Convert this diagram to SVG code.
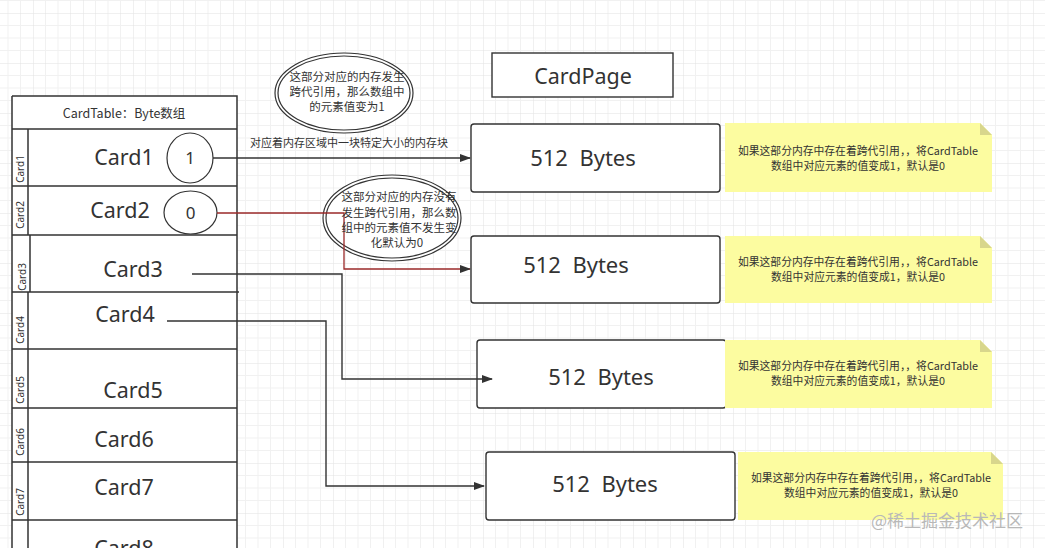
<svg xmlns="http://www.w3.org/2000/svg" width="1045" height="548" viewBox="0 0 1045 548">
<defs>
<pattern id="grid" x="33" y="13" width="50" height="50" patternUnits="userSpaceOnUse">
<path d="M12.5 0V50M25 0V50M37.5 0V50M0 12.5H50M0 25H50M0 37.5H50" stroke="#f1f1f1" stroke-width="1" fill="none"/>
<path d="M0 0V50M0 0H50" stroke="#e2e2e2" stroke-width="1" fill="none"/>
</pattern>
<marker id="arr" markerWidth="11" markerHeight="8" refX="10" refY="4" orient="auto" markerUnits="userSpaceOnUse">
<path d="M0 0L11 4L0 8Z" fill="#333"/>
</marker>
<style>
.ln{stroke:#333;stroke-width:1.4;fill:none}
.cell{stroke:#333;stroke-width:1.5;fill:none}
.t{font-family:"Noto Sans","Noto Sans CJK SC",sans-serif;fill:#333;text-anchor:middle}
.card{font-size:21.5px}
.side{font-size:10px}
.cjk{font-family:"Noto Sans CJK SC","Noto Sans",sans-serif;fill:#333;text-anchor:middle}
.box{fill:#fff;stroke:#333;stroke-width:1.4}
.note{fill:#fcfca0}
.fold{fill:#d8d68c}
.nt{font-size:10.8px}
.el{fill:#fff;stroke:#333;stroke-width:1.2}
</style>
</defs>
<rect width="1045" height="548" fill="#fff"/>
<rect width="1045" height="548" fill="url(#grid)"/>

<g id="cardtable">
<rect x="12" y="96" width="225" height="470" fill="#fff" stroke="none"/>
<path class="cell" d="M12 96H237V560M12 96V560M12 129H237M12 186H237M12 235H237M12 292H239M12 349H237M12 408H237M12 462H237M12 520H237"/>
<path class="cell" d="M28 129V235M30 235V292M28 292V520M28 520V560"/>
<text class="cjk" x="124" y="118" font-size="12.5">CardTable：Byte数组</text>
</g>

<g id="card1">
<text class="t card" x="124" y="165">Card1</text>
<text class="t side" transform="translate(23.5 169) rotate(-90)">Card1</text>
</g>
<g id="card2">
<text class="t card" x="120" y="218">Card2</text>
<text class="t side" transform="translate(23.5 215) rotate(-90)">Card2</text>
</g>
<g id="card3">
<text class="t card" x="133" y="277">Card3</text>
<text class="t side" transform="translate(25.5 277) rotate(-90)">Card3</text>
</g>
<g id="card4">
<text class="t card" x="125" y="322">Card4</text>
<text class="t side" transform="translate(23.5 330) rotate(-90)">Card4</text>
</g>
<g id="card5">
<text class="t card" x="133" y="398">Card5</text>
<text class="t side" transform="translate(23.5 390) rotate(-90)">Card5</text>
</g>
<g id="card6">
<text class="t card" x="124" y="447">Card6</text>
<text class="t side" transform="translate(23.5 442) rotate(-90)">Card6</text>
</g>
<g id="card7">
<text class="t card" x="124" y="495">Card7</text>
<text class="t side" transform="translate(23.5 502) rotate(-90)">Card7</text>
</g>
<g id="card8">
<text class="t card" x="124" y="556">Card8</text>
</g>

<g id="val1">
<ellipse class="el" cx="190" cy="158" rx="23" ry="25" stroke-width="1.4"/>
<text class="t" x="190" y="164" font-size="17">1</text>
</g>
<g id="val0">
<ellipse class="el" cx="190.5" cy="212.5" rx="26.5" ry="21.5" stroke-width="1.4"/>
<text class="t" x="190.5" y="219" font-size="17">0</text>
</g>

<g id="note-cross">
<ellipse class="el" cx="344" cy="93" rx="69" ry="40"/>
<ellipse class="el" cx="344" cy="93" rx="66" ry="37"/>
<text class="cjk" font-size="11.5"><tspan x="347" y="81">这部分对应的内存发生</tspan><tspan x="347" y="96">跨代引用，那么数组中</tspan><tspan x="347" y="111">的元素值变为1</tspan></text>
</g>
<g id="note-nocross">
<ellipse class="el" cx="392" cy="218" rx="69" ry="43"/>
<ellipse class="el" cx="392" cy="218" rx="66" ry="40"/>
</g>

<g id="cardpage">
<rect x="492" y="53" width="181" height="44" fill="#fff" stroke="#333" stroke-width="1.4"/>
<text class="t" x="583" y="84" font-size="21.5">CardPage</text>
</g>

<g id="bytes1">
<rect class="box" x="471" y="124" width="249" height="68" rx="3"/>
<text class="t" x="583" y="166" font-size="22" xml:space="preserve">512  Bytes</text>
</g>
<g id="bytes2">
<rect class="box" x="471" y="236" width="249" height="67" rx="3"/>
<text class="t" x="576" y="273" font-size="22" xml:space="preserve">512  Bytes</text>
</g>
<g id="bytes3">
<rect class="box" x="477" y="340" width="249" height="68" rx="3"/>
<text class="t" x="601" y="385" font-size="22" xml:space="preserve">512  Bytes</text>
</g>
<g id="bytes4">
<rect class="box" x="486" y="452" width="249" height="68" rx="3"/>
<text class="t" x="605" y="492" font-size="22" xml:space="preserve">512  Bytes</text>
</g>

<g id="connectors">
<path class="ln" d="M213 158H470" marker-end="url(#arr)"/>
<text class="cjk" x="349" y="147" font-size="11">对应着内存区域中一块特定大小的内存块</text>
<path d="M217 213H344V269H470" fill="none" stroke="#9a2a2a" stroke-width="1.3" marker-end="url(#arr)"/>
<path class="ln" d="M192 274H342V379H492" marker-end="url(#arr)"/>
<path class="ln" d="M167 321H326V486H484" marker-end="url(#arr)"/>
</g>

<g id="note-nocross-text">
<text class="cjk" font-size="11.5"><tspan x="399" y="201">这部分对应的内存没有</tspan><tspan x="399" y="217">发生跨代引用，那么数</tspan><tspan x="399" y="232">组中的元素值不发生变</tspan><tspan x="397" y="247">化默认为0</tspan></text>
</g>

<g id="note1">
<path class="note" d="M725 123H980L992 135V192H725Z"/>
<path class="fold" d="M980 123L992 135H980Z"/>
<text class="cjk nt"><tspan x="858" y="155">如果这部分内存中存在着跨代引用，，将CardTable</tspan><tspan x="858" y="169.5">数组中对应元素的值变成1，默认是0</tspan></text>
</g>
<g id="note2">
<path class="note" d="M725 236H980L992 248V303H725Z"/>
<path class="fold" d="M980 236L992 248H980Z"/>
<text class="cjk nt"><tspan x="858" y="266">如果这部分内存中存在着跨代引用，，将CardTable</tspan><tspan x="858" y="280.5">数组中对应元素的值变成1，默认是0</tspan></text>
</g>
<g id="note3">
<path class="note" d="M725 340H980L992 352V408H725Z"/>
<path class="fold" d="M980 340L992 352H980Z"/>
<text class="cjk nt"><tspan x="858" y="370">如果这部分内存中存在着跨代引用，，将CardTable</tspan><tspan x="858" y="384.5">数组中对应元素的值变成1，默认是0</tspan></text>
</g>
<g id="note4">
<path class="note" d="M738 452H991L1003 464V520H738Z"/>
<path class="fold" d="M991 452L1003 464H991Z"/>
<text class="cjk nt"><tspan x="871" y="482">如果这部分内存中存在着跨代引用，，将CardTable</tspan><tspan x="871" y="496.5">数组中对应元素的值变成1，默认是0</tspan></text>
</g>

<text x="947" y="527" font-family="Noto Sans CJK SC, sans-serif" font-size="17" fill="#b8b8b8" text-anchor="middle">@稀土掘金技术社区</text>
</svg>
